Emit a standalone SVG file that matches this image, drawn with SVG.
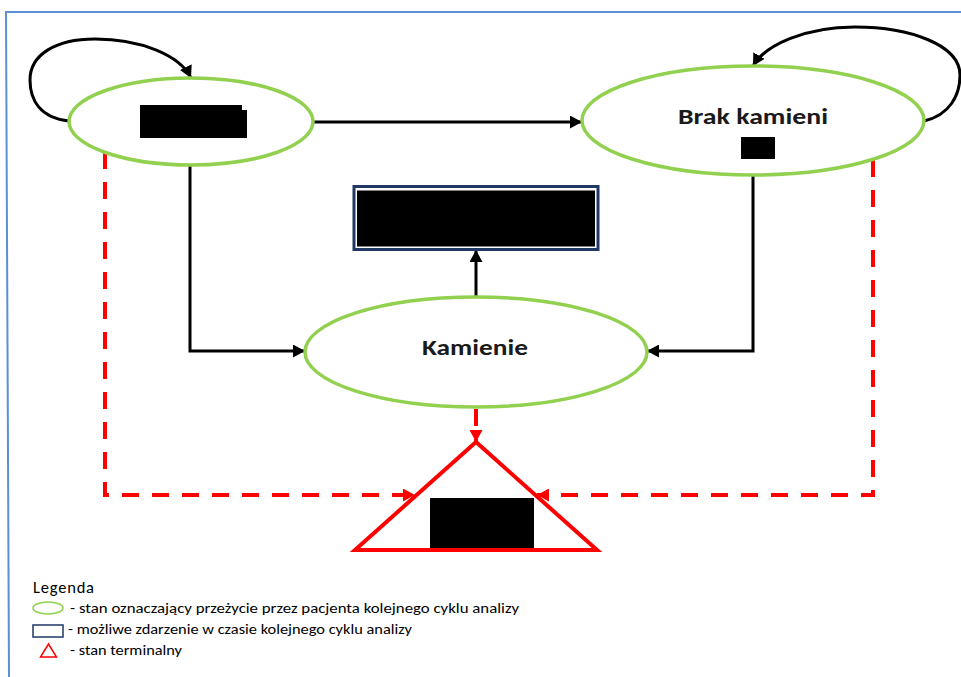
<svg xmlns="http://www.w3.org/2000/svg" width="961" height="677" viewBox="0 0 961 677">
<defs>
<style>
.state{fill:#fff;stroke:#92D050;stroke-width:3.5}
.conn{fill:none;stroke:#000;stroke-width:3}
.term{fill:none;stroke:#FF0000;stroke-width:4;stroke-dasharray:17 13}
.lbl{font-family:"Carlito","Liberation Sans",Arial,sans-serif;font-weight:bold;fill:#1a1a1a;text-anchor:middle}
.leg{font-family:"Carlito","Liberation Sans",Arial,sans-serif;fill:#000;font-size:15px}
.mask{fill:#000}
</style>
<marker id="ah" markerUnits="userSpaceOnUse" markerWidth="13" markerHeight="13" refX="12" refY="6.5" orient="auto"><path d="M0,0 L12,6.5 L0,13 z" fill="#000"/></marker>
<marker id="ahr" markerUnits="userSpaceOnUse" markerWidth="13" markerHeight="13" refX="12" refY="6.5" orient="auto"><path d="M0,0 L12,6.5 L0,13 z" fill="#FF0000"/></marker>
</defs>
<rect width="961" height="677" fill="#fff"/>
<path d="M9,677 L6,12 L961,12" fill="none" stroke="#5B8FD6" stroke-width="2"/>

<g id="connectors">
<path class="conn" d="M69,121 C40,118 30,100 30,80 C30,55 55,39 95,39 C140,39 180,55 191,78" marker-end="url(#ah)"/>
<path class="conn" d="M924,121 C950,115 960,95 960,75 C960,45 910,27 855,27 C805,27 765,45 753,66" marker-end="url(#ah)"/>
<path class="conn" d="M313,122 L582,122" marker-end="url(#ah)"/>
<path class="conn" d="M190,165 L190,351 L305,351" marker-end="url(#ah)"/>
<path class="conn" d="M753,175 L753,351 L647,351" marker-end="url(#ah)"/>
<path class="conn" d="M476,297 L476,250" marker-end="url(#ah)"/>
<path class="term" d="M105,152 L105,495 L415,495" marker-end="url(#ahr)"/>
<path class="term" d="M873,160 L873,495 L537,495" marker-end="url(#ahr)"/>
<path class="term" d="M476,409 L476,442" marker-end="url(#ahr)"/>
</g>

<g id="node-start">
<ellipse class="state" cx="191" cy="121.5" rx="122" ry="43.5"/>
<rect class="mask" x="140" y="105" width="102" height="33"/>
<rect class="mask" x="140" y="110" width="107" height="28"/>
</g>

<g id="node-brak">
<ellipse class="state" cx="753" cy="120.5" rx="171" ry="54.5"/>
<text class="lbl" x="753" y="124" font-size="22" textLength="150" lengthAdjust="spacingAndGlyphs">Brak kamieni</text>
<rect class="mask" x="741" y="137" width="34" height="22"/>
</g>

<g id="node-event">
<rect x="354" y="186.5" width="244" height="63" fill="#fff" stroke="#1F3864" stroke-width="3"/>
<rect class="mask" x="357" y="190.5" width="238" height="56"/>
</g>

<g id="node-kamienie">
<ellipse class="state" cx="476" cy="352" rx="171" ry="55"/>
<text class="lbl" x="475" y="355" font-size="23" textLength="106" lengthAdjust="spacingAndGlyphs">Kamienie</text>
</g>

<g id="node-terminal">
<polygon points="476,442 355,550 597,550" fill="#fff" stroke="#FF0000" stroke-width="4" stroke-linejoin="miter"/>
<rect class="mask" x="430" y="498" width="104" height="50"/>
</g>

<g id="legend">
<text class="leg" x="33" y="593" style="font-size:16.5px" textLength="61">Legenda</text>
<ellipse cx="48" cy="608" rx="15" ry="6" fill="none" stroke="#92D050" stroke-width="1.5"/>
<text class="leg" x="70" y="613" textLength="449" lengthAdjust="spacingAndGlyphs">- stan oznaczający przeżycie przez pacjenta kolejnego cyklu analizy</text>
<rect x="33" y="625" width="30" height="12" fill="none" stroke="#1F3864" stroke-width="1.5"/>
<text class="leg" x="68" y="634" textLength="344" lengthAdjust="spacingAndGlyphs">- możliwe zdarzenie w czasie kolejnego cyklu analizy</text>
<polygon points="48.5,644 40.5,657 56.5,657" fill="none" stroke="#FF0000" stroke-width="1.5"/>
<text class="leg" x="70" y="655" textLength="112" lengthAdjust="spacingAndGlyphs">- stan terminalny</text>
</g>
</svg>
